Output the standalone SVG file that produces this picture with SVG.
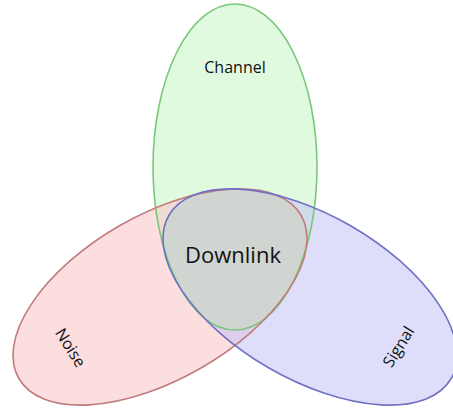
<svg xmlns="http://www.w3.org/2000/svg" width="453" height="408" viewBox="0 0 453 408">
<style>
.lbl{font-family:"Open Sans","Liberation Sans",sans-serif;fill:#111;text-anchor:middle}
.fill{fill-opacity:0.55}
</style>
<defs>
<clipPath id="cRed"><ellipse cx="160" cy="297" rx="82" ry="163" transform="rotate(60 160 297)"/></clipPath>
<clipPath id="cBlue"><ellipse cx="310" cy="297" rx="82" ry="163" transform="rotate(-60 310 297)"/></clipPath>
<filter id="soft" x="-5%" y="-5%" width="110%" height="110%"><feGaussianBlur stdDeviation="0.6"/></filter>
</defs>
<rect width="453" height="408" fill="#fff"/>
<g id="channel">
<ellipse class="fill" cx="235" cy="167" rx="82" ry="163" fill="#c6f5c6"/>
</g>
<g id="noise">
<ellipse class="fill" cx="160" cy="297" rx="82" ry="163" transform="rotate(60 160 297)" fill="#fbc3c3"/>
</g>
<g id="signal">
<ellipse class="fill" cx="310" cy="297" rx="82" ry="163" transform="rotate(-60 310 297)" fill="#c3c3f5"/>
</g>
<g id="downlink">
<g clip-path="url(#cBlue)"><g clip-path="url(#cRed)">
<ellipse cx="235" cy="167" rx="82" ry="163" fill="#d1d5d1"/>
</g></g>
</g>
<g id="outlines" fill="none" stroke-width="1.6">
<ellipse cx="235" cy="167" rx="82" ry="163" stroke="#78c878"/>
<ellipse cx="160" cy="297" rx="82" ry="163" transform="rotate(60 160 297)" stroke="#c07c7c"/>
<ellipse cx="310" cy="297" rx="82" ry="163" transform="rotate(-60 310 297)" stroke="#7070c4"/>
</g>
<g id="labels">
<text class="lbl" x="235" y="73" font-size="16">Channel</text>
<text class="lbl" x="233" y="263" font-size="22">Downlink</text>
<text class="lbl" font-size="16" transform="translate(70 348) rotate(58)" y="5">Noise</text>
<text class="lbl" font-size="16" transform="translate(399 347) rotate(-58)" y="5">Signal</text>
</g>
</svg>
